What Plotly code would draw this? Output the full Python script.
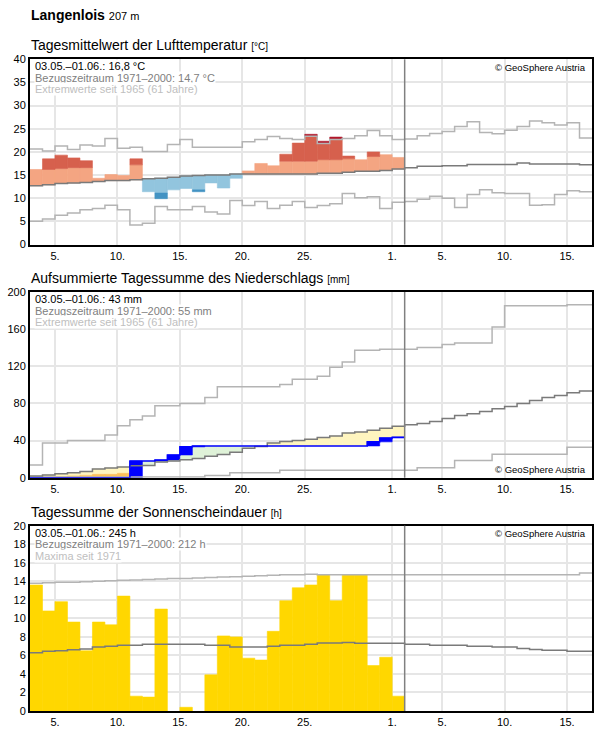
import pandas as pd
import plotly.graph_objects as go

# 03.05. - 16.06.2025, one value per day; observations end on 01.06.
days = list(pd.date_range("2025-05-03", "2025-06-16", freq="D"))
END = pd.Timestamp("2025-06-17")
CUT = pd.Timestamp("2025-06-02")

tick_vals = ["2025-05-05", "2025-05-10", "2025-05-15", "2025-05-20", "2025-05-25",
             "2025-06-01", "2025-06-05", "2025-06-10", "2025-06-15"]
tick_text = ["5.", "10.", "15.", "20.", "25.", "1.", "5.", "10.", "15."]

# --- air temperature (daily mean, °C) ---
temp_obs = [16.2, 18.5, 19.3, 18.7, 18.1, 14.3, 15.1, 14.9, 18.5, 11.4,
            9.9, 11.8, 12.1, 11.4, 13.3, 12.2, 14.3, 15.9, 17.5, 17.0,
            19.5, 21.9, 23.8, 22.3, 23.2, 19.1, 18.3, 20.0, 19.4, 18.8]
temp_band_hi = [16.2, 16.2, 16.4, 16.6, 16.6, 16.8, 16.9, 17.0, 17.2, 17.3,
                17.4, 17.5, 17.6, 17.7, 17.8, 17.8, 17.9, 17.9, 18.0, 18.0,
                18.0, 18.0, 18.0, 18.3, 18.3, 18.5, 18.6, 19.0, 19.5, 19.5]
temp_band_lo = [9.4, 9.6, 9.9, 10.0, 10.1, 10.3, 10.5, 10.5, 10.7, 11.0,
                11.1, 11.3, 11.6, 11.8, 11.9, 11.9, 12.0, 12.0, 12.0, 12.0,
                12.0, 12.0, 12.2, 12.2, 12.3, 12.4, 12.5, 12.5, 12.7, 13.0]
temp_mean = [12.7, 12.9, 13.2, 13.3, 13.4, 13.6, 13.8, 13.8, 14.0, 14.2,
             14.3, 14.5, 14.8, 14.9, 15.0, 15.0, 15.2, 15.2, 15.2, 15.2,
             15.2, 15.2, 15.2, 15.4, 15.4, 15.6, 15.8, 15.8, 16.0, 16.3,
             16.6, 16.9, 16.9, 17.0, 17.0, 17.3, 17.3, 17.3, 17.3, 17.6,
             17.4, 17.4, 17.4, 17.4, 17.2]
temp_max = [20.6, 20.2, 21.3, 20.5, 21.5, 21.3, 22.9, 20.8, 21.0, 20.1,
            20.1, 21.6, 22.7, 21.0, 21.0, 21.0, 21.0, 22.2, 22.7, 23.3,
            22.9, 22.7, 23.4, 21.8, 22.7, 22.9, 23.5, 24.6, 23.5, 22.7,
            22.8, 23.5, 24.0, 24.4, 25.5, 26.5, 24.2, 23.9, 24.7, 25.5,
            26.7, 26.3, 25.8, 26.3, 23.0]
temp_min = [5.0, 5.5, 6.3, 6.8, 7.5, 7.8, 8.5, 7.5, 4.2, 4.6,
            8.2, 7.5, 7.5, 8.2, 7.0, 6.6, 9.5, 8.4, 9.3, 7.8,
            8.5, 9.3, 8.0, 8.4, 8.8, 11.0, 10.1, 10.3, 7.8, 9.1,
            9.3, 9.8, 10.4, 10.0, 8.0, 10.8, 11.8, 11.2, 11.0, 11.0,
            8.5, 8.6, 10.8, 11.6, 11.4]

# --- precipitation (accumulated, mm) ---
prec_obs = [0.0, 0.0, 0.0, 0.0, 0.0, 0.0, 0.0, 0.0, 18.0, 18.0,
            19.1, 24.5, 33.2, 34.2, 34.2, 34.2, 34.2, 34.2, 34.2, 34.2,
            34.2, 34.2, 34.2, 34.2, 34.2, 34.2, 34.2, 38.6, 42.8, 43.6]
prec_band_lo = [0.0, 0.7, 1.1, 1.8, 2.5, 3.6, 3.6, 4.7, 5.3, 5.6,
                6.8, 7.3, 7.9, 8.6, 9.5, 10.0, 11.0, 12.8, 13.6, 15.2,
                15.8, 16.4, 17.0, 17.8, 18.6, 20.0, 20.6, 21.4, 22.4, 23.4]
prec_mean = [1.8, 2.9, 4.3, 5.4, 6.8, 9.4, 10.5, 11.5, 12.9, 13.2,
             16.8, 17.9, 19.3, 20.7, 23.0, 25.0, 27.5, 31.8, 33.6, 37.5,
             38.9, 40.0, 41.4, 43.2, 45.0, 48.2, 49.3, 51.0, 53.2, 55.4,
             56.9, 58.4, 60.5, 63.8, 67.0, 68.8, 71.4, 74.2, 76.8, 80.0,
             83.2, 86.5, 88.6, 91.5, 93.3]
prec_max = [13.6, 37.5, 37.5, 40.0, 40.0, 40.0, 46.0, 56.0, 62.5, 66.4,
            77.5, 77.5, 80.0, 80.0, 86.4, 98.0, 98.0, 98.0, 98.0, 98.0,
            100.5, 106.0, 106.0, 109.2, 119.0, 124.7, 137.3, 137.3, 138.4, 138.4,
            138.4, 140.2, 140.2, 143.4, 145.2, 145.2, 145.2, 162.2, 185.2, 185.2,
            185.2, 185.2, 185.2, 186.3, 186.3]
prec_min = [0.8, 0.8, 0.8, 0.8, 0.8, 0.8, 0.8, 0.8, 0.8, 0.8,
            0.8, 0.8, 0.8, 0.8, 2.5, 2.5, 5.4, 5.4, 5.4, 5.4,
            8.0, 8.0, 8.0, 8.0, 8.0, 8.0, 8.0, 8.0, 8.0, 8.0,
            8.0, 10.8, 10.8, 10.8, 18.4, 18.4, 18.4, 25.2, 25.2, 25.2,
            25.2, 25.2, 25.2, 32.8, 32.8]

# --- sunshine duration (h per day) ---
sun_obs = [13.6, 10.8, 11.8, 9.6, 6.5, 9.6, 9.3, 12.4, 1.6, 1.5,
           11.0, 0.0, 0.4, 0.0, 3.9, 8.1, 8.0, 5.7, 5.5, 8.6,
           11.9, 13.3, 13.6, 14.7, 11.9, 14.7, 14.7, 4.9, 5.8, 1.6]
sun_mean = [6.3, 6.45, 6.5, 6.6, 6.7, 6.9, 7.0, 7.1, 7.1, 7.2,
            7.2, 7.2, 7.2, 7.2, 7.1, 7.1, 6.9, 6.9, 6.9, 7.0,
            7.1, 7.1, 7.2, 7.35, 7.35, 7.4, 7.3, 7.3, 7.3, 7.3,
            7.2, 7.2, 7.1, 7.1, 7.1, 7.0, 7.0, 6.9, 6.9, 6.75,
            6.65, 6.55, 6.55, 6.45, 6.45]
sun_max = [13.8, 13.85, 13.9, 13.9, 13.95, 14.0, 14.05, 14.1, 14.15, 14.2,
           14.25, 14.3, 14.3, 14.35, 14.4, 14.45, 14.5, 14.55, 14.6, 14.65,
           14.7, 14.7, 14.75, 14.7, 14.7, 14.7, 14.7, 14.7, 14.7, 14.7,
           14.7, 14.7, 14.7, 14.7, 14.7, 14.7, 14.7, 14.7, 14.7, 14.7,
           14.7, 14.7, 14.7, 14.7, 14.9]

FONT = "Liberation Sans, Arial, sans-serif"
DARK = "#7a7a7a"
LIGHT = "#b4b4b4"
GRID = "#e6e6e6"
DAY_MS = 86400000

W, H = 596, 729
L, R = 30, 4
# plot areas in pixels (top, bottom)
panels = [(59.3, 244.5), (292.0, 477.7), (525.7, 711.0)]


def sfx(k):
    return "" if k == 1 else str(k)


def py(y):
    return 1 - y / H


def step(values, k, color, width=1.5):
    x = days[:len(values)] + [days[len(values) - 1] + pd.Timedelta(days=1)]
    y = list(values) + [values[-1]]
    return go.Scatter(x=x, y=y, mode="lines", line=dict(shape="hv", color=color, width=width),
                      xaxis="x" + sfx(k), yaxis="y" + sfx(k), hoverinfo="skip")


def blocks(segs, k, color):
    # segs: list of (day index, bottom, top); thin outline in the same colour hides seams
    return go.Bar(x=[days[i] for i, _, _ in segs],
                  y=[t - b for _, b, t in segs],
                  base=[b for _, b, _ in segs],
                  width=DAY_MS, offset=0,
                  marker=dict(color=color, line=dict(color=color, width=0.6)),
                  xaxis="x" + sfx(k), yaxis="y" + sfx(k), hoverinfo="skip")


fig = go.Figure()

# temperature anomalies
salmon, red, crimson, lblue, mblue, dblue = [], [], [], [], [], []
for i, t in enumerate(temp_obs):
    m, hi, lo = temp_mean[i], temp_band_hi[i], temp_band_lo[i]
    emax, emin = temp_max[i], temp_min[i]
    if t >= m:
        salmon.append((i, m, min(t, hi)))
        if t > hi:
            red.append((i, hi, min(t, emax)))
        if t > emax:
            crimson.append((i, max(emax, hi), t))
    else:
        lblue.append((i, max(t, lo), m))
        if t < lo:
            mblue.append((i, max(t, emin), lo))
        if t < emin:
            dblue.append((i, t, min(emin, lo)))

for segs, col in [(salmon, "#f4a582"), (red, "#d6604d"), (crimson, "#b2182b"),
                  (lblue, "#92c5de"), (mblue, "#4393c3"), (dblue, "#2166ac")]:
    if segs:
        fig.add_trace(blocks(segs, 1, col))

fig.add_trace(step(temp_max, 1, LIGHT))
fig.add_trace(step(temp_min, 1, LIGHT))
fig.add_trace(step(temp_mean, 1, DARK))

# precipitation
green, yellow, orange, rain = [], [], [], []
for i, a in enumerate(prec_obs):
    m, lo = prec_mean[i], prec_band_lo[i]
    if a > m:
        green.append((i, m, a))
    elif a < m:
        yellow.append((i, max(a, lo), m))
        if a < lo:
            orange.append((i, a, lo))
    prev = prec_obs[i - 1] if i > 0 else 0.0
    if a > prev:
        rain.append((i, prev, a))

for segs, col in [(green, "#dff2d8"), (yellow, "#fff5bf"), (orange, "#fdc05a"), (rain, "#0000ff")]:
    if segs:
        fig.add_trace(blocks(segs, 2, col))

fig.add_trace(step(prec_max, 2, LIGHT))
fig.add_trace(step(prec_min, 2, LIGHT))
fig.add_trace(step(prec_mean, 2, DARK))
fig.add_trace(step(prec_obs, 2, "#0000ff"))

# sunshine
fig.add_trace(blocks([(i, 0.0, s) for i, s in enumerate(sun_obs) if s > 0], 3, "#ffd700"))
fig.add_trace(step(sun_max, 3, LIGHT))
fig.add_trace(step(sun_mean, 3, DARK))

layout = dict(
    width=W, height=H,
    margin=dict(l=L, r=R, t=0, b=0, autoexpand=False),
    paper_bgcolor="white", plot_bgcolor="white",
    showlegend=False, barmode="overlay",
    font=dict(family=FONT, size=11, color="#000000"),
)

y_ranges = [(40, 5), (200, 40), (20, 2)]
for k, ((top, bot), (ymax, dt)) in enumerate(zip(panels, y_ranges), start=1):
    layout["xaxis" + sfx(k)] = dict(
        domain=[0, 1], anchor="y" + sfx(k), type="date",
        range=[days[0], END],
        tickmode="array", tickvals=tick_vals, ticktext=tick_text,
        showgrid=True, gridcolor=GRID, gridwidth=1.5,
        showline=True, mirror=True, linecolor="black", linewidth=2,
        ticks="", tickfont=dict(size=11), zeroline=False, automargin=False,
    )
    layout["yaxis" + sfx(k)] = dict(
        domain=[py(bot), py(top)], anchor="x" + sfx(k),
        range=[0, ymax], tick0=0, dtick=dt,
        showgrid=True, gridcolor=GRID, gridwidth=1.5,
        showline=True, mirror=True, linecolor="black", linewidth=2,
        ticks="", tickfont=dict(size=11), zeroline=False, automargin=False,
    )
fig.update_layout(**layout)

# end of observations
for k in (1, 2, 3):
    fig.add_shape(type="line", xref="x" + sfx(k), yref="y" + sfx(k) + " domain",
                  x0=CUT, x1=CUT, y0=0, y1=1, line=dict(color="#808080", width=1.5))


def note(text, y_px, x=0.0, size=11, color="black", anchor="left", bg=None):
    fig.add_annotation(text=text, xref="paper", yref="paper", x=x, y=py(y_px),
                       xanchor=anchor, yanchor="middle", showarrow=False,
                       font=dict(family=FONT, size=size, color=color),
                       bgcolor=bg, borderpad=0)


note("<b>Langenlois</b> <span style='font-size:11px'>207 m</span>", 15, size=14)
titles = ["Tagesmittelwert der Lufttemperatur <span style='font-size:10px'>[°C]</span>",
          "Aufsummierte Tagessumme des Niederschlags <span style='font-size:10px'>[mm]</span>",
          "Tagessumme der Sonnenscheindauer <span style='font-size:10px'>[h]</span>"]
infos = [["03.05.–01.06.: 16,8 °C", "Bezugszeitraum 1971–2000: 14,7 °C", "Extremwerte seit 1965 (61 Jahre)"],
         ["03.05.–01.06.: 43 mm", "Bezugszeitraum 1971–2000: 55 mm", "Extremwerte seit 1965 (61 Jahre)"],
         ["03.05.–01.06.: 245 h", "Bezugszeitraum 1971–2000: 212 h", "Maxima seit 1971"]]
x_in = 4 / (W - L - R)
for (top, bot), title, lines in zip(panels, titles, infos):
    note(title, top - 14, size=14)
    for j, (txt, col) in enumerate(zip(lines, ["black", "#808080", "#c0c0c0"])):
        note(txt, top + 7 + 11.5 * j, x=x_in, color=col, bg="white")

x_right = 1 - 5 / (W - L - R)
note("© GeoSphere Austria", panels[0][0] + 8, x=x_right, size=9.5, anchor="right")
note("© GeoSphere Austria", panels[1][1] - 8, x=x_right, size=9.5, anchor="right")
note("© GeoSphere Austria", panels[2][0] + 8, x=x_right, size=9.5, anchor="right")

# drop the browser's default page margin so the figure sits at (0, 0)
fig.write_html("out.html", config={"displayModeBar": False},
               post_script="document.body.style.margin='0';")
